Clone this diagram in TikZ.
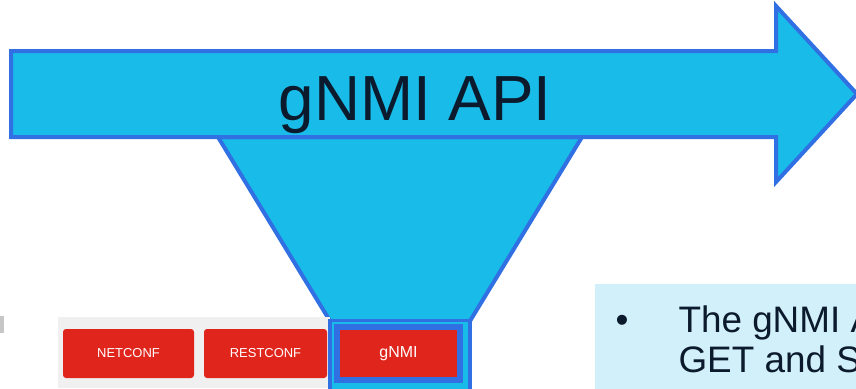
\documentclass[tikz,border=0pt]{standalone}
\usepackage{fontspec}
\setmainfont{Liberation Sans}
\definecolor{apifill}{HTML}{19BCE8}
\definecolor{apiline}{HTML}{3070E2}
\definecolor{btnred}{HTML}{E0251C}
\definecolor{panelgray}{HTML}{F0F0F0}
\definecolor{notefill}{HTML}{D2F0FA}
\definecolor{inkdark}{HTML}{0B1A2C}
\tikzset{
  apishape/.style={fill=apifill, draw=apiline, line width=4bp, line join=miter},
  protobtn/.style={fill=btnred, rounded corners=3bp, draw=none},
  btnlabel/.style={text=white, font=\fontsize{13}{15}\selectfont},
  notetext/.style={anchor=base west, font=\fontsize{37}{42}\selectfont, text=inkdark},
}
\begin{document}
\begin{tikzpicture}[x=1bp, y=-1bp]
\useasboundingbox (0,0) rectangle (856,388);
\begin{scope}
\clip (0,0) rectangle (856,388);

% funnel from the API arrow down to the selected protocol
\draw[apishape] (218,137) -- (582,137) -- (470,321) -- (330,321) -- cycle;

% the API arrow
\draw[apishape] (11,51) -- (776,51) -- (776,6) -- (857,94) -- (776,182)
  -- (776,137) -- (11,137) -- cycle;
\node[font=\fontsize{64}{70}\selectfont, text=inkdark, anchor=base]
  (title) at (415,120) {gNMI API};

% protocol selector panel
\fill[panelgray] (58,317) rectangle (330,388);
\fill[protobtn] (63,329) rectangle (194,378);
\node[btnlabel] (netconf) at (128.5,353.5) {NETCONF};
\fill[protobtn] (204,329) rectangle (327,378);
\node[btnlabel] (restconf) at (265.5,353.5) {RESTCONF};

% highlighted gNMI button
\fill[apiline] (328,319) rectangle (472,390);
\fill[apifill] (332,322) rectangle (468,390);
\fill[apiline] (334,324) rectangle (463,383);
\fill[btnred] (340,330) rectangle (457,377);
\node[text=white, font=\fontsize{16}{18}\selectfont] (gnmi) at (398.5,353.5) {gNMI};

% faint mark at the left edge
\fill[gray!45] (0,316) rectangle (4,333);

% note box
\fill[notefill] (595,284) rectangle (870,392);
\node[notetext] (bullet) at (612,332) {\textbullet};
\node[notetext] (note1) at (675,332) {The gNMI API};
\node[notetext] (note2) at (675,372) {GET and SET};
\end{scope}
\end{tikzpicture}
\end{document}
